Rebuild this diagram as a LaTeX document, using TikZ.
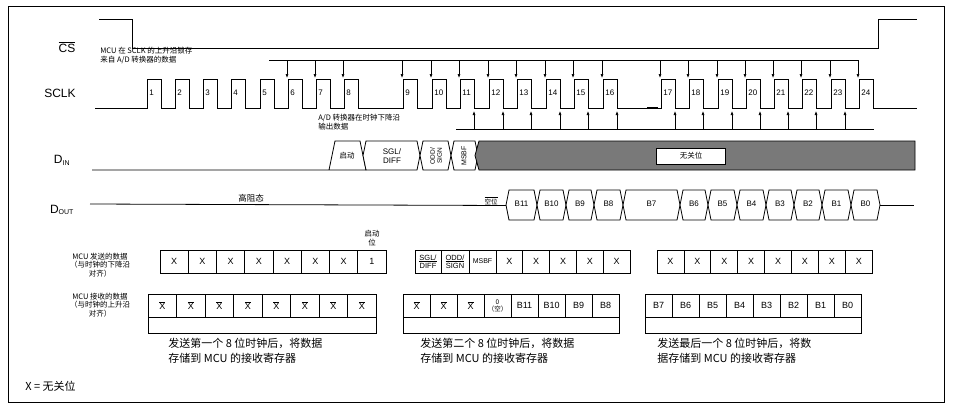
\documentclass[tikz,border=0pt]{standalone}
\usepackage{fontspec}
\usetikzlibrary{arrows.meta}
\setmainfont{Liberation Sans}
\newfontfamily\cjk{Noto Sans CJK SC}
\begin{document}
\begin{tikzpicture}[x=1pt,y=-1pt,line width=0.8pt,
  lbl/.style={font=\fontsize{12}{12}\selectfont},
  small/.style={font=\cjk\fontsize{7.5}{8.5}\selectfont,align=left,inner sep=0pt},
  num/.style={font=\fontsize{8}{8}\selectfont,inner sep=0pt},
  cell/.style={font=\fontsize{9}{9}\selectfont,inner sep=0pt},
  captxt/.style={font=\cjk\fontsize{11}{15}\selectfont,align=left,inner sep=0pt,anchor=north west},
  arr/.style={-{Latex[length=4pt,width=3pt]},line width=0.6pt}]
\useasboundingbox (0,0) rectangle (955,410);
\draw[line width=1pt] (8,6) rectangle (944,402);
% labels
\node[lbl] (lcs) at (67,47) {$\overline{\mbox{CS}}$};
\node[lbl] (lsclk) at (60,93) {SCLK};
\node[lbl] (ldin) at (62,160) {D\textsubscript{\fontsize{7}{7}\selectfont IN}};
\node[lbl] (ldout) at (62,210) {D\textsubscript{\fontsize{7}{7}\selectfont OUT}};
% CS
\draw (99,19)--(132,19)--(132,48)--(878,48)--(878,19)--(917,19);
% SCLK
\def\rises{147,175,203,231,260,288,316,344,403,432,460,489,517,546,574,603,661,689,718,746,774,802,831,859}
\draw (95,108) \foreach \r in \rises { -- (\r,108) -- (\r,79) -- (\r+14,79) -- (\r+14,108) } -- (917,108);
\draw[line width=1.6pt] (647,108)--(658,108);
\foreach \r [count=\i] in \rises { \node[num,anchor=west] (n\i) at (\r+2,93) {\i}; }
% down arrows
\draw[line width=0.6pt] (269,60)--(859,60);
\foreach \r in {288,316,344,403,432,460,489,517,546,574,603,661,689,718,746,774,802,831,859}
  { \draw[arr] (\r-1,60)--(\r-1,78); }
% up arrows
\draw[line width=0.6pt] (456,129)--(874,129);
\foreach \r in {460,489,517,546,574,603,661,689,718,746,774,802,831}
  { \draw[arr] (\r+14,129)--(\r+14,111); }
\node[small,anchor=north west] (t1) at (100,47) {MCU 在 SCLK 的上升沿锁存\\来自 A/D 转换器的数据};
\node[small,anchor=north west] (t2) at (318,114) {A/D 转换器在时钟下降沿\\输出数据};
% DIN
\draw (92,170)--(329,170)--(335,141)--(360,141)--(366,170)--cycle;
\newcommand\hexa[5]{\draw[fill=#5] (#1,{(#3+#4)/2})--(#1+3,#3)--(#2-3,#3)--(#2,{(#3+#4)/2})--(#2-3,#4)--(#1+3,#4)--cycle;}
\hexa{363}{420}{141}{170}{white}
\hexa{420}{451}{141}{170}{white}
\hexa{451}{478}{141}{170}{white}
\draw[fill=gray!95!black] (475,155.5)--(479,141)--(915,141)--(915,170)--(479,170)--cycle;
\node[small] (qd) at (347,156) {启动};
\node[cell,align=center,font=\fontsize{8}{8.5}\selectfont] (sgl) at (392,156) {SGL/\\DIFF};
\node[cell,align=center,rotate=90,font=\fontsize{6.5}{7}\selectfont] (odd) at (436,156) {ODD/\\SIGN};
\node[cell,rotate=90,font=\fontsize{7}{7}\selectfont] (msbf) at (464,156) {MSBF};
\node[draw,fill=white,minimum width=69pt,minimum height=16pt,inner sep=0pt,line width=0.6pt,font=\cjk\fontsize{7.5}{8}\selectfont] (wgw) at (691,156) {无关位};
% DOUT
\draw (90,204)--(506,205.5);
\node[small,font=\cjk\fontsize{8.5}{9}\selectfont] (gzt) at (251,198) {高阻态};
\node[small,font=\cjk\fontsize{6.5}{7}\selectfont] (kw) at (491,201) {$\overline{\mbox{空位}}$};
\foreach \a/\b/\t in {506/537/B11,537/566/B10,566/594/B9,594/623/B8,623/680/B7,680/708/B6,708/737/B5,737/766/B4,766/794/B3,794/822/B2,822/851/B1,851/880/B0}
  { \hexa{\a}{\b}{190}{220}{white} \node[cell,font=\fontsize{8}{8}\selectfont] (d\t) at ({(\a+\b)/2},204) {\t}; }
\draw (880,205)--(914,205);
% bottom rows
\node[small,align=center] (r1) at (100,265) {MCU 发送的数据\\（与时钟的下降沿\\对齐）};
\node[small,align=center] (r2) at (100,305) {MCU 接收的数据\\（与时钟的上升沿\\对齐）};
\node[small,align=center] (qdw) at (372,238) {启动\\位};
\newcommand\row[5]{% x0, width, y0, y1, list
  \foreach \t [count=\i] in {#5} { \draw ({#1+(\i-1)*#2},#3) rectangle ({#1+\i*#2},#4);
    \node[cell] at ({#1+(\i-0.5)*#2},{(#3+#4)/2}) {\t}; }}
\row{160}{28.25}{250}{273}{X,X,X,X,X,X,X,1}
\draw (415,250) rectangle (441,273) (441,250) rectangle (469,273) (469,250) rectangle (496,273);
\node[cell,align=center,font=\fontsize{7.5}{8}\selectfont] (s1) at (428,261.5) {\underline{SGL/}\\DIFF};
\node[cell,align=center,font=\fontsize{7.5}{8}\selectfont] (s2) at (455,261.5) {\underline{ODD/}\\SIGN};
\node[cell,font=\fontsize{7}{7}\selectfont] (s3) at (482.5,261.5) {MSBF};
\row{496}{26.8}{250}{273}{X,X,X,X,X}
\row{657}{26.9}{250}{273}{X,X,X,X,X,X,X,X}
\row{148}{28.5}{294}{317}{$\overline{\mbox{X}}$,$\overline{\mbox{X}}$,$\overline{\mbox{X}}$,$\overline{\mbox{X}}$,$\overline{\mbox{X}}$,$\overline{\mbox{X}}$,$\overline{\mbox{X}}$,$\overline{\mbox{X}}$}
\row{403}{27}{294}{317}{$\overline{\mbox{X}}$,$\overline{\mbox{X}}$,$\overline{\mbox{X}}$,,B11,B10,B9,B8}
\node[cell,align=center,font=\cjk\fontsize{6.5}{7}\selectfont] (zero) at (497.5,305.5) {0\\（空）};
\row{645}{27}{294}{317}{B7,B6,B5,B4,B3,B2,B1,B0}
\draw (148,317)--(148,333)--(376,333)--(376,317);
\draw (403,317)--(403,333)--(619,333)--(619,317);
\draw (645,317)--(645,333)--(861,333)--(861,317);
\node[captxt] (c1) at (168,338) {发送第一个 8 位时钟后，将数据\\存储到 MCU 的接收寄存器};
\node[captxt] (c2) at (420,338) {发送第二个 8 位时钟后，将数据\\存储到 MCU 的接收寄存器};
\node[captxt] (c3) at (657,338) {发送最后一个 8 位时钟后，将数\\据存储到 MCU 的接收寄存器};
\node[captxt,anchor=west] (xk) at (25,386) {X = 无关位};
\end{tikzpicture}
\end{document}
